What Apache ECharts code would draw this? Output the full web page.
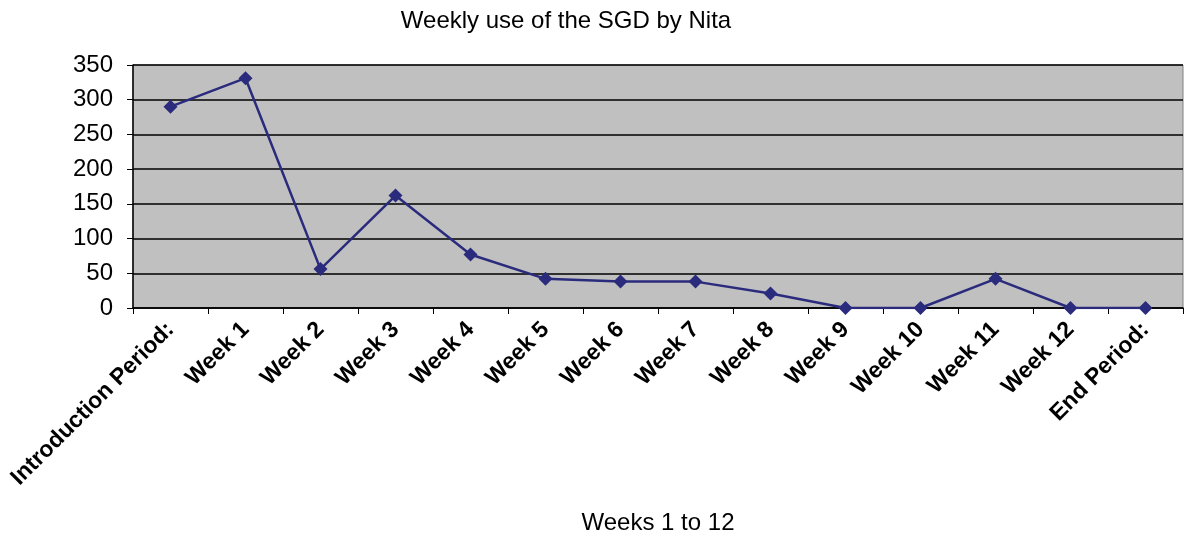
<!DOCTYPE html>
<html><head><meta charset="utf-8">
<script src="https://cdn.jsdelivr.net/npm/echarts@6/dist/echarts.min.js"></script>
<style>html,body{margin:0;padding:0;background:#fff}#c{width:1185px;height:536px}</style>
</head><body><div id="c"></div>
<script>
const categories = ["Introduction Period:", "Week 1", "Week 2", "Week 3", "Week 4", "Week 5", "Week 6", "Week 7", "Week 8", "Week 9", "Week 10", "Week 11", "Week 12", "End Period:"];
const usage = [290, 331, 56, 162, 77, 42, 38, 38, 21, 0, 0, 42, 0, 0];
const yTicks = [0, 50, 100, 150, 200, 250, 300, 350];

const chart = echarts.init(document.getElementById('c'), null, {renderer: 'canvas'});
chart.setOption({
  animation: false,
  backgroundColor: '#ffffff',
  title: {
    text: 'Weekly use of the SGD by Nita',
    left: 561, top: 4, textAlign: 'center',
    textStyle: {fontFamily: 'Liberation Sans, Arial', fontSize: 24, fontWeight: 'normal', color: '#000'}
  },
  grid: {
    left: 133, right: 2, top: 65, bottom: 224,
    show: true, backgroundColor: '#c0c0c0', borderColor: '#808080', borderWidth: 1,
    containLabel: false
  },
  xAxis: {
    type: 'category', data: categories, boundaryGap: true,
    name: 'Weeks 1 to 12', nameLocation: 'middle', nameGap: 203,
    nameTextStyle: {fontFamily: 'Liberation Sans, Arial', fontSize: 24, color: '#000'},
    axisLine: {lineStyle: {color: '#000', width: 1.5}},
    axisTick: {show: true, length: 6, lineStyle: {color: '#000'}},
    axisLabel: {rotate: 45, interval: 0, margin: 18, fontFamily: 'Liberation Sans, Arial', fontSize: 23, fontWeight: 'bold', color: '#000'},
    splitLine: {show: false}
  },
  yAxis: {
    type: 'value', min: yTicks[0], max: yTicks[yTicks.length - 1], interval: 50,
    axisLine: {show: true, lineStyle: {color: '#000', width: 1.5}},
    axisTick: {show: true, length: 6, lineStyle: {color: '#000'}},
    axisLabel: {margin: 20, fontFamily: 'Liberation Sans, Arial', fontSize: 24, color: '#000'},
    splitLine: {show: true, lineStyle: {color: '#000', width: 1.5}}
  },
  series: [{
    type: 'line', data: usage,
    symbol: 'diamond', symbolSize: 14,
    lineStyle: {color: '#2b2b7e', width: 2.5},
    itemStyle: {color: '#2b2b7e'}
  }]
});
</script></body></html>
